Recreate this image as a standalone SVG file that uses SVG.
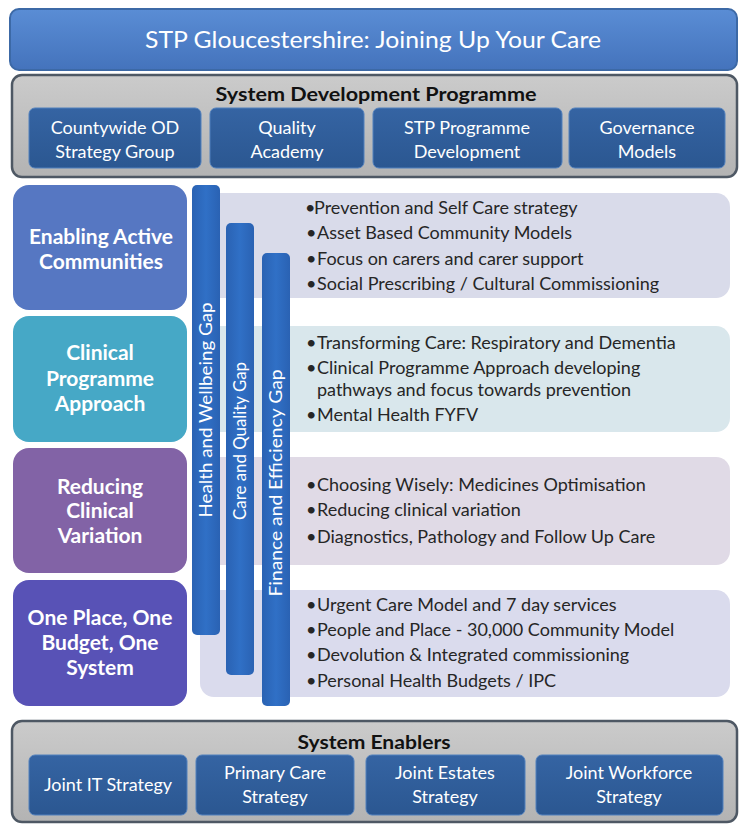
<svg xmlns="http://www.w3.org/2000/svg" width="741" height="825" viewBox="0 0 741 825">
  <defs>
    <linearGradient id="gTitle" x1="0" y1="0" x2="0" y2="1">
      <stop offset="0" stop-color="#5a8dd5"/>
      <stop offset="1" stop-color="#4473bc"/>
    </linearGradient>
    <linearGradient id="gGrey" x1="0" y1="0" x2="0" y2="1">
      <stop offset="0" stop-color="#cbcbcb"/>
      <stop offset="1" stop-color="#b3b3b3"/>
    </linearGradient>
    <linearGradient id="gSub" x1="0" y1="0" x2="0" y2="1">
      <stop offset="0" stop-color="#3564a3"/>
      <stop offset="1" stop-color="#2b5791"/>
    </linearGradient>
    <linearGradient id="gBar" x1="0" y1="0" x2="1" y2="0">
      <stop offset="0" stop-color="#2a62b3"/>
      <stop offset="0.5" stop-color="#3070c6"/>
      <stop offset="1" stop-color="#2a62b3"/>
    </linearGradient>
  </defs>
  <style>
    .txt { font-family: Lato, "Liberation Sans", sans-serif; }
    .title { font-size: 23px; fill: #ffffff; text-anchor: middle; }
    .head { font-size: 19px; font-weight: bold; fill: #111111; text-anchor: middle; }
    .sub { fill: url(#gSub); stroke: #5180bd; stroke-width: 1; }
    .subtxt { font-size: 18px; fill: #ffffff; text-anchor: middle; }
    .grey { fill: url(#gGrey); stroke: #4e5864; stroke-width: 2.5; }
    .theme { font-size: 21px; font-weight: bold; fill: #ffffff; text-anchor: middle; }
    .bar { fill: url(#gBar); }
    .bartxt { font-size: 17px; fill: #ffffff; text-anchor: middle; }
    .item { font-size: 18px; fill: #262626; }
    .dot { font-size: 18px; fill: #262626; }
  </style>

  <!-- Title banner -->
  <g id="title">
    <rect x="10" y="9" width="727" height="61" rx="9" fill="url(#gTitle)" stroke="#3c69a6" stroke-width="2"/>
    <text class="txt title" x="373" y="48" textLength="456" lengthAdjust="spacingAndGlyphs">STP Gloucestershire: Joining Up Your Care</text>
  </g>

  <!-- System Development Programme -->
  <g id="system-development">
    <rect class="grey" x="12" y="75" width="725" height="102" rx="10"/>
    <text class="txt head" x="376" y="101" textLength="321" lengthAdjust="spacingAndGlyphs">System Development Programme</text>
    <g id="sd-countywide">
      <rect class="sub" x="29" y="108" width="172" height="60" rx="6"/>
      <text class="txt subtxt" x="115" y="134">Countywide OD</text>
      <text class="txt subtxt" x="115" y="158">Strategy Group</text>
    </g>
    <g id="sd-quality">
      <rect class="sub" x="210" y="108" width="154" height="60" rx="6"/>
      <text class="txt subtxt" x="287" y="134">Quality</text>
      <text class="txt subtxt" x="287" y="158">Academy</text>
    </g>
    <g id="sd-stp">
      <rect class="sub" x="373" y="108" width="189" height="60" rx="6"/>
      <text class="txt subtxt" x="467" y="134">STP Programme</text>
      <text class="txt subtxt" x="467" y="158">Development</text>
    </g>
    <g id="sd-governance">
      <rect class="sub" x="569" y="108" width="156" height="60" rx="6"/>
      <text class="txt subtxt" x="647" y="134">Governance</text>
      <text class="txt subtxt" x="647" y="158">Models</text>
    </g>
  </g>

  <!-- Detail panels (behind the gap bars) -->
  <g id="panel-active">
    <rect x="200" y="193" width="530" height="105" rx="14" fill="#d9dbea"/>
    <text class="txt dot" x="305" y="214">•</text>
    <text class="txt item" x="314" y="214">Prevention and Self Care strategy</text>
    <text class="txt dot" x="306" y="239">•</text>
    <text class="txt item" x="317" y="239">Asset Based Community Models</text>
    <text class="txt dot" x="306" y="265">•</text>
    <text class="txt item" x="317" y="265">Focus on carers and carer support</text>
    <text class="txt dot" x="306" y="290">•</text>
    <text class="txt item" x="317" y="290">Social Prescribing / Cultural Commissioning</text>
  </g>
  <g id="panel-clinical">
    <rect x="200" y="326" width="530" height="106" rx="14" fill="#d9e7ec"/>
    <text class="txt dot" x="306" y="349">•</text>
    <text class="txt item" x="317" y="349">Transforming Care: Respiratory and Dementia</text>
    <text class="txt dot" x="306" y="374">•</text>
    <text class="txt item" x="317" y="374">Clinical Programme Approach developing</text>
    <text class="txt item" x="317" y="396">pathways and focus towards prevention</text>
    <text class="txt dot" x="306" y="421">•</text>
    <text class="txt item" x="317" y="421">Mental Health FYFV</text>
  </g>
  <g id="panel-variation">
    <rect x="200" y="457" width="530" height="108" rx="14" fill="#e0dae6"/>
    <text class="txt dot" x="306" y="491">•</text>
    <text class="txt item" x="317" y="491">Choosing Wisely: Medicines Optimisation</text>
    <text class="txt dot" x="306" y="516">•</text>
    <text class="txt item" x="317" y="516">Reducing clinical variation</text>
    <text class="txt dot" x="306" y="543">•</text>
    <text class="txt item" x="317" y="543">Diagnostics, Pathology and Follow Up Care</text>
  </g>
  <g id="panel-place">
    <rect x="200" y="590" width="530" height="107" rx="14" fill="#dadbed"/>
    <text class="txt dot" x="306" y="611">•</text>
    <text class="txt item" x="317" y="611">Urgent Care Model and 7 day services</text>
    <text class="txt dot" x="306" y="636">•</text>
    <text class="txt item" x="317" y="636">People and Place - 30,000 Community Model</text>
    <text class="txt dot" x="306" y="661">•</text>
    <text class="txt item" x="317" y="661">Devolution &amp; Integrated commissioning</text>
    <text class="txt dot" x="306" y="687">•</text>
    <text class="txt item" x="317" y="687">Personal Health Budgets / IPC</text>
  </g>

  <!-- Theme boxes -->
  <g id="theme-active">
    <rect x="13" y="185" width="174" height="125" rx="16" fill="#5677c2"/>
    <text class="txt theme" x="101" y="244">Enabling Active</text>
    <text class="txt theme" x="101" y="269">Communities</text>
  </g>
  <g id="theme-clinical">
    <rect x="13" y="316" width="174" height="126" rx="16" fill="#46a8c6"/>
    <text class="txt theme" x="100" y="360">Clinical</text>
    <text class="txt theme" x="100" y="386">Programme</text>
    <text class="txt theme" x="100" y="411">Approach</text>
  </g>
  <g id="theme-variation">
    <rect x="13" y="448" width="174" height="125" rx="16" fill="#8263a6"/>
    <text class="txt theme" x="100" y="494">Reducing</text>
    <text class="txt theme" x="100" y="518">Clinical</text>
    <text class="txt theme" x="100" y="543">Variation</text>
  </g>
  <g id="theme-place">
    <rect x="13" y="580" width="174" height="126" rx="16" fill="#5852b6"/>
    <text class="txt theme" x="100" y="625">One Place, One</text>
    <text class="txt theme" x="100" y="650">Budget, One</text>
    <text class="txt theme" x="100" y="675">System</text>
  </g>

  <!-- Gap bars -->
  <g id="gap-health">
    <rect class="bar" x="192" y="185" width="28" height="450" rx="5"/>
    <text class="txt bartxt" transform="translate(212 410) rotate(-90)" textLength="215" lengthAdjust="spacingAndGlyphs">Health and Wellbeing Gap</text>
  </g>
  <g id="gap-care">
    <rect class="bar" x="226" y="223" width="28" height="452" rx="5"/>
    <text class="txt bartxt" transform="translate(246 441) rotate(-90)" textLength="158" lengthAdjust="spacingAndGlyphs">Care and Quality Gap</text>
  </g>
  <g id="gap-finance">
    <rect class="bar" x="262" y="253" width="28" height="453" rx="5"/>
    <text class="txt bartxt" transform="translate(282 483) rotate(-90)" textLength="227" lengthAdjust="spacingAndGlyphs">Finance and Efficiency Gap</text>
  </g>

  <!-- System Enablers -->
  <g id="system-enablers">
    <rect class="grey" x="12" y="721" width="725" height="101" rx="10"/>
    <text class="txt head" x="374" y="749" textLength="153" lengthAdjust="spacingAndGlyphs">System Enablers</text>
    <g id="en-it">
      <rect class="sub" x="29" y="755" width="158" height="60" rx="6"/>
      <text class="txt subtxt" x="108" y="791">Joint IT Strategy</text>
    </g>
    <g id="en-primary">
      <rect class="sub" x="196" y="755" width="158" height="60" rx="6"/>
      <text class="txt subtxt" x="275" y="779">Primary Care</text>
      <text class="txt subtxt" x="275" y="803">Strategy</text>
    </g>
    <g id="en-estates">
      <rect class="sub" x="366" y="755" width="159" height="60" rx="6"/>
      <text class="txt subtxt" x="445" y="779">Joint Estates</text>
      <text class="txt subtxt" x="445" y="803">Strategy</text>
    </g>
    <g id="en-workforce">
      <rect class="sub" x="536" y="755" width="187" height="60" rx="6"/>
      <text class="txt subtxt" x="629" y="779">Joint Workforce</text>
      <text class="txt subtxt" x="629" y="803">Strategy</text>
    </g>
  </g>
</svg>
